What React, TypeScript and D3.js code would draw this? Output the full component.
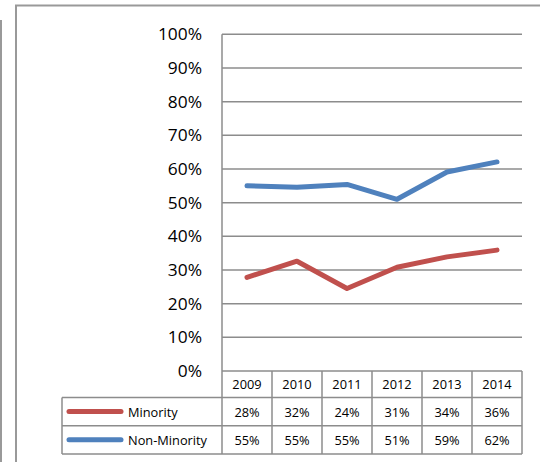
import React from "react";
import * as d3 from "d3";

const years = ["2009", "2010", "2011", "2012", "2013", "2014"];
const minority = [27.8, 32.6, 24.5, 30.8, 33.9, 35.9];
const nonMinority = [55.0, 54.6, 55.4, 51.0, 59.1, 62.1];
const minorityLabels = ["28%", "32%", "24%", "31%", "34%", "36%"];
const nonMinorityLabels = ["55%", "55%", "55%", "51%", "59%", "62%"];
const yTicks = [0, 10, 20, 30, 40, 50, 60, 70, 80, 90, 100];

const series = [
  { name: "Minority", values: minority, labels: minorityLabels, color: "#C0504D" },
  { name: "Non-Minority", values: nonMinority, labels: nonMinorityLabels, color: "#4F81BD" },
];

export default function App() {
  const W = 540, H = 462;
  const left = 222, right = 522, top = 34.3, bottom = 371;
  const x = d3.scaleBand().domain(years).range([left, right]);
  const y = d3.scaleLinear().domain([0, 100]).range([bottom, top]);
  const line = d3
    .line<number>()
    .x((_, i) => (x(years[i]) as number) + x.bandwidth() / 2)
    .y((d) => y(d));
  const grid = "#8C8C8C";
  const font = "'Open Sans', Lato, sans-serif";
  const rowTops = [371, 397.5, 425.7, 454];
  const tableLeft = 62;

  return (
    <svg
      width={W}
      height={H}
      style={{ position: "absolute", left: 0, top: 0, background: "#fff" }}
      fontFamily={font}
    >
      {/* outer frames */}
      <line x1={1} y1={20} x2={1} y2={462} stroke="#999" strokeWidth={2} />
      <path d={`M16,462 V5.5 H540`} fill="none" stroke="#999" strokeWidth={2} />

      {/* gridlines */}
      {yTicks.map((t) =>
        t === 0 ? null : (
          <line key={t} x1={left} x2={right} y1={y(t)} y2={y(t)} stroke={grid} strokeWidth={1.5} />
        )
      )}
      {yTicks.map((t) => (
        <text
          key={"l" + t}
          transform={`translate(202,${y(t)}) scale(1.12,1)`}
          textAnchor="end"
          dominantBaseline="central"
          fontSize={15.5}
          fill="#000"
        >
          {t}%
        </text>
      ))}
      {/* y axis */}
      <line x1={left} x2={left} y1={top} y2={bottom} stroke={grid} strokeWidth={1.5} />

      {/* lines */}
      {series.map((s) => (
        <path
          key={s.name}
          d={line(s.values) || ""}
          fill="none"
          stroke={s.color}
          strokeWidth={5}
          strokeLinecap="round"
          strokeLinejoin="round"
        />
      ))}

      {/* data table */}
      <g stroke={grid} strokeWidth={1.5} fill="none">
        <line x1={left} x2={right} y1={rowTops[0]} y2={rowTops[0]} />
        <line x1={tableLeft} x2={right} y1={rowTops[1]} y2={rowTops[1]} />
        <line x1={tableLeft} x2={right} y1={rowTops[2]} y2={rowTops[2]} />
        <line x1={tableLeft} x2={right} y1={rowTops[3]} y2={rowTops[3]} />
        <line x1={tableLeft} x2={tableLeft} y1={rowTops[1]} y2={rowTops[3]} />
        {years.map((yr) => (
          <line
            key={yr}
            x1={x(yr) as number}
            x2={x(yr) as number}
            y1={rowTops[0]}
            y2={rowTops[3]}
          />
        ))}
        <line x1={right} x2={right} y1={rowTops[0]} y2={rowTops[3]} />
      </g>
      {years.map((yr) => (
        <text
          key={"h" + yr}
          x={(x(yr) as number) + x.bandwidth() / 2}
          y={(rowTops[0] + rowTops[1]) / 2}
          textAnchor="middle"
          dominantBaseline="central"
          fontSize={12.8}
        >
          {yr}
        </text>
      ))}
      {series.map((s, si) => {
        const cy = (rowTops[si + 1] + rowTops[si + 2]) / 2;
        return (
          <g key={"r" + s.name}>
            <line x1={69} x2={121} y1={cy} y2={cy} stroke={s.color} strokeWidth={5} strokeLinecap="round" />
            <text x={128} y={cy} dominantBaseline="central" fontSize={12.8}>
              {s.name}
            </text>
            {s.labels.map((lab, i) => (
              <text
                key={i}
                x={(x(years[i]) as number) + x.bandwidth() / 2}
                y={cy}
                textAnchor="middle"
                dominantBaseline="central"
                fontSize={12.8}
              >
                {lab}
              </text>
            ))}
          </g>
        );
      })}
    </svg>
  );
}
